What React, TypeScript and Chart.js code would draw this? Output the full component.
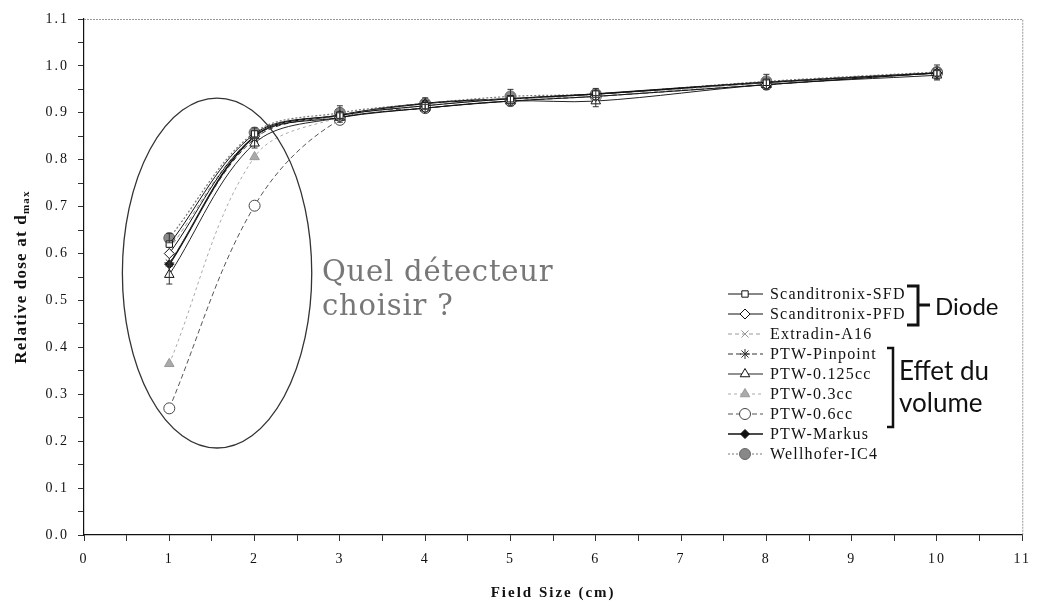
import React, { useEffect, useRef } from 'react';
import { Chart, registerables } from 'chart.js';
import { drawPoint } from 'chart.js/helpers';

Chart.register(...registerables);

// ---------- data ----------
const fieldSizes = [1, 2, 3, 4, 5, 6, 8, 10];

const scanditronixSFD = [0.62, 0.855, 0.895, 0.915, 0.93, 0.94, 0.965, 0.985];
const scanditronixPFD = [0.6, 0.85, 0.89, 0.91, 0.925, 0.935, 0.96, 0.985];
const extradinA16 = [0.61, 0.85, 0.895, 0.915, 0.93, 0.935, 0.965, 0.985];
const ptwPinpoint = [0.58, 0.845, 0.895, 0.92, 0.93, 0.94, 0.965, 0.985];
const ptw0125cc = [0.555, 0.835, 0.89, 0.91, 0.925, 0.925, 0.96, 0.98];
const ptw03cc = [0.365, 0.806, 0.89, 0.915, 0.93, 0.935, 0.965, 0.985];
const ptw06cc = [0.27, 0.702, 0.885, 0.91, 0.925, 0.935, 0.96, 0.985];
const ptwMarkus = [0.577, 0.85, 0.895, 0.92, 0.93, 0.94, 0.965, 0.985];
const wellhoferIC4 = [0.633, 0.858, 0.9, 0.92, 0.935, 0.94, 0.967, 0.987];

const ic4Errors = [0.01, 0.01, 0.015, 0.012, 0.015, 0.012, 0.015, 0.015];
const ptw0125Errors = [0.02, 0.01, 0.01, 0.008, 0.01, 0.012, 0.01, 0.01];

const seriesLabels = [
  'Scanditronix-SFD',
  'Scanditronix-PFD',
  'Extradin-A16',
  'PTW-Pinpoint',
  'PTW-0.125cc',
  'PTW-0.3cc',
  'PTW-0.6cc',
  'PTW-Markus',
  'Wellhofer-IC4',
];
const seriesValues = [
  scanditronixSFD,
  scanditronixPFD,
  extradinA16,
  ptwPinpoint,
  ptw0125cc,
  ptw03cc,
  ptw06cc,
  ptwMarkus,
  wellhoferIC4,
];

const xTitle = 'Field Size (cm)';
const yTitleMain = 'Relative dose at d';
const yTitleSub = 'max';
const questionLines = ['Quel détecteur', 'choisir ?'];
const diodeLabel = 'Diode';
const volumeLines = ['Effet du', 'volume'];

// ellipse annotation in data units
const ellipseCenter = { x: 1.56, y: 0.5585 };
const ellipseRadius = { x: 1.11, y: 0.373 };

// ---------- styles ----------
type Style = {
  color: string;
  width: number;
  dash: number[];
  pointStyle: any;
  radius: number;
  bg: string;
  border: string;
};
const styles: Style[] = [
  { color: '#111', width: 1, dash: [], pointStyle: 'rect', radius: 4.5, bg: '#fff', border: '#111' },
  { color: '#111', width: 1, dash: [], pointStyle: 'rectRot', radius: 5, bg: '#fff', border: '#111' },
  { color: '#999', width: 1, dash: [4, 3], pointStyle: 'crossRot', radius: 5, bg: '#999', border: '#999' },
  { color: '#333', width: 1, dash: [5, 3], pointStyle: 'star', radius: 5, bg: '#333', border: '#333' },
  { color: '#222', width: 1, dash: [], pointStyle: 'triangle', radius: 5.5, bg: '#fff', border: '#111' },
  { color: '#aaa', width: 1, dash: [3, 3], pointStyle: 'triangle', radius: 5.5, bg: '#aaa', border: '#999' },
  { color: '#555', width: 1, dash: [5, 3], pointStyle: 'circle', radius: 5.5, bg: '#fff', border: '#444' },
  { color: '#111', width: 1.6, dash: [], pointStyle: 'rectRot', radius: 4.5, bg: '#111', border: '#111' },
  { color: '#777', width: 1.2, dash: [2, 2], pointStyle: 'circle', radius: 5.5, bg: '#888', border: '#666' },
];

const serif = '"Liberation Serif", "Times New Roman", serif';

const overlayPlugin = {
  id: 'overlay',
  beforeDraw(chart: any) {
    chart.ctx.letterSpacing = '2px';
  },
  afterDatasetsDraw(chart: any) {
    const ctx = chart.ctx as CanvasRenderingContext2D;
    const xs = chart.scales.x;
    const ys = chart.scales.y;
    const drawErr = (vals: number[], errs: number[]) => {
      ctx.save();
      ctx.strokeStyle = '#333';
      ctx.lineWidth = 1;
      fieldSizes.forEach((fx, i) => {
        const px = xs.getPixelForValue(fx);
        const top = ys.getPixelForValue(vals[i] + errs[i]);
        const bot = ys.getPixelForValue(vals[i] - errs[i]);
        ctx.beginPath();
        ctx.moveTo(px, top);
        ctx.lineTo(px, bot);
        ctx.moveTo(px - 3, top);
        ctx.lineTo(px + 3, top);
        ctx.moveTo(px - 3, bot);
        ctx.lineTo(px + 3, bot);
        ctx.stroke();
      });
      ctx.restore();
    };
    drawErr(wellhoferIC4, ic4Errors);
    drawErr(ptw0125cc, ptw0125Errors);
  },
  afterDraw(chart: any) {
    const ctx = chart.ctx as CanvasRenderingContext2D;
    const area = chart.chartArea;
    const xs = chart.scales.x;
    const ys = chart.scales.y;
    ctx.save();
    ctx.letterSpacing = '0px';

    // top & right dotted border
    ctx.strokeStyle = '#999';
    ctx.lineWidth = 1;
    ctx.setLineDash([2, 1]);
    ctx.beginPath();
    ctx.moveTo(area.left, area.top + 0.5);
    ctx.lineTo(area.right + 0.5, area.top + 0.5);
    ctx.lineTo(area.right + 0.5, area.bottom);
    ctx.stroke();
    ctx.setLineDash([]);

    // ellipse
    const cx = xs.getPixelForValue(ellipseCenter.x);
    const cy = ys.getPixelForValue(ellipseCenter.y);
    const rx = xs.getPixelForValue(ellipseCenter.x + ellipseRadius.x) - cx;
    const ry = cy - ys.getPixelForValue(ellipseCenter.y + ellipseRadius.y);
    ctx.strokeStyle = '#333';
    ctx.lineWidth = 1.3;
    ctx.beginPath();
    ctx.ellipse(cx, cy, rx, ry, 0, 0, Math.PI * 2);
    ctx.stroke();

    // question text
    ctx.fillStyle = '#777';
    ctx.font = '29px "DejaVu Serif", serif';
    ctx.letterSpacing = '0.8px';
    ctx.textAlign = 'left';
    ctx.textBaseline = 'alphabetic';
    ctx.fillText(questionLines[0], 322, 281);
    ctx.fillText(questionLines[1], 322, 315);
    ctx.letterSpacing = '0px';

    // legend
    const lx0 = 728;
    const lx1 = 763;
    const lmx = 745;
    const ly0 = 294;
    const lstep = 20;
    chart.data.datasets.forEach((ds: any, i: number) => {
      const st = styles[i];
      const y = ly0 + i * lstep;
      ctx.save();
      ctx.strokeStyle = st.color;
      ctx.lineWidth = st.width;
      ctx.setLineDash(st.dash);
      ctx.beginPath();
      ctx.moveTo(lx0, y);
      ctx.lineTo(lx1, y);
      ctx.stroke();
      ctx.setLineDash([]);
      ctx.fillStyle = st.bg;
      ctx.strokeStyle = st.border;
      ctx.lineWidth = 1;
      drawPoint(ctx, { pointStyle: st.pointStyle, radius: st.radius, rotation: 0, borderWidth: 1 } as any, lmx, y);
      ctx.restore();
      ctx.fillStyle = '#111';
      ctx.font = '16px ' + serif;
      ctx.letterSpacing = '1.2px';
      ctx.textBaseline = 'middle';
      ctx.fillText(ds.label, 770, y + 1);
      ctx.letterSpacing = '0px';
    });

    // brackets
    ctx.strokeStyle = '#111';
    ctx.lineWidth = 3;
    ctx.beginPath();
    ctx.moveTo(907, 286);
    ctx.lineTo(918, 286);
    ctx.lineTo(918, 325);
    ctx.lineTo(907, 325);
    ctx.moveTo(918, 305);
    ctx.lineTo(930, 305);
    ctx.stroke();
    ctx.lineWidth = 2.5;
    ctx.beginPath();
    ctx.moveTo(887, 348);
    ctx.lineTo(893, 348);
    ctx.lineTo(893, 427);
    ctx.lineTo(887, 427);
    ctx.stroke();

    ctx.fillStyle = '#111';
    ctx.textBaseline = 'alphabetic';
    ctx.font = '24px Lato, "Noto Sans", sans-serif';
    ctx.fillText(diodeLabel, 935, 315);
    ctx.font = '26px Lato, "Noto Sans", sans-serif';
    ctx.fillText(volumeLines[0], 899, 380);
    ctx.fillText(volumeLines[1], 899, 412);

    // y axis title with subscript
    ctx.save();
    ctx.translate(20, (area.top + area.bottom) / 2);
    ctx.rotate(-Math.PI / 2);
    ctx.letterSpacing = '1.2px';
    ctx.font = 'bold 17px ' + serif;
    const w1 = ctx.measureText(yTitleMain).width;
    ctx.font = 'bold 11px ' + serif;
    const w2 = ctx.measureText(yTitleSub).width;
    const start = -(w1 + w2) / 2;
    ctx.textAlign = 'left';
    ctx.textBaseline = 'alphabetic';
    ctx.fillStyle = '#111';
    ctx.font = 'bold 17px ' + serif;
    ctx.fillText(yTitleMain, start, 6);
    ctx.font = 'bold 11px ' + serif;
    ctx.fillText(yTitleSub, start + w1, 9);
    ctx.restore();

    ctx.restore();
  },
};

function buildConfig(): any {
  const datasets = seriesValues.map((vals, i) => {
    const st = styles[i];
    return {
      label: seriesLabels[i],
      data: fieldSizes.map((x, j) => ({ x, y: vals[j] })),
      borderColor: st.color,
      borderWidth: st.width,
      borderDash: st.dash,
      pointStyle: st.pointStyle,
      pointRadius: st.radius,
      pointBackgroundColor: st.bg,
      pointBorderColor: st.border,
      pointBorderWidth: 1,
      tension: 0.35,
      fill: false,
    };
  });
  const tickFont = { family: serif, size: 14 };
  return {
    type: 'line',
    data: { datasets },
    options: {
      responsive: false,
      animation: false,
      events: [],
      layout: { padding: { top: 19, right: 5, left: 0, bottom: 0 } },
      plugins: { legend: { display: false }, tooltip: { enabled: false }, title: { display: false } },
      scales: {
        x: {
          type: 'linear',
          min: 0,
          max: 11,
          ticks: {
            stepSize: 0.5,
            autoSkip: false,
            maxRotation: 0,
            padding: 10,
            color: '#111',
            font: tickFont,
            callback: (v: number) => (Math.abs(v - Math.round(v)) < 1e-6 ? String(Math.round(v)) : ''),
          },
          grid: { drawOnChartArea: false, drawTicks: true, tickLength: 6, color: '#333' },
          border: { color: '#111', width: 1.2 },
          title: {
            display: true,
            text: xTitle,
            color: '#111',
            font: { family: serif, size: 15, weight: 'bold' },
            padding: { top: 0, bottom: 4 },
          },
          afterFit: (s: any) => {
            s.height = 71;
          },
        },
        y: {
          type: 'linear',
          min: 0,
          max: 1.1,
          ticks: {
            stepSize: 0.05,
            autoSkip: false,
            padding: 9,
            color: '#111',
            font: tickFont,
            callback: (v: number) => (Math.round(v * 20) % 2 === 0 ? v.toFixed(1) : ''),
          },
          grid: { drawOnChartArea: false, drawTicks: true, tickLength: 6, color: '#333' },
          border: { color: '#111', width: 1.2 },
          afterFit: (s: any) => {
            s.width = 84;
          },
        },
      },
    },
    plugins: [overlayPlugin],
  };
}

export default function App() {
  const ref = useRef<HTMLCanvasElement>(null);
  useEffect(() => {
    const chart = new Chart(ref.current as HTMLCanvasElement, buildConfig());
    return () => chart.destroy();
  }, []);
  return (
    <div style={{ position: 'absolute', left: 0, top: 0, width: 1039, height: 606, background: '#fff' }}>
      <canvas ref={ref} width={1039} height={606} style={{ display: 'block', width: 1039, height: 606 }} />
    </div>
  );
}
